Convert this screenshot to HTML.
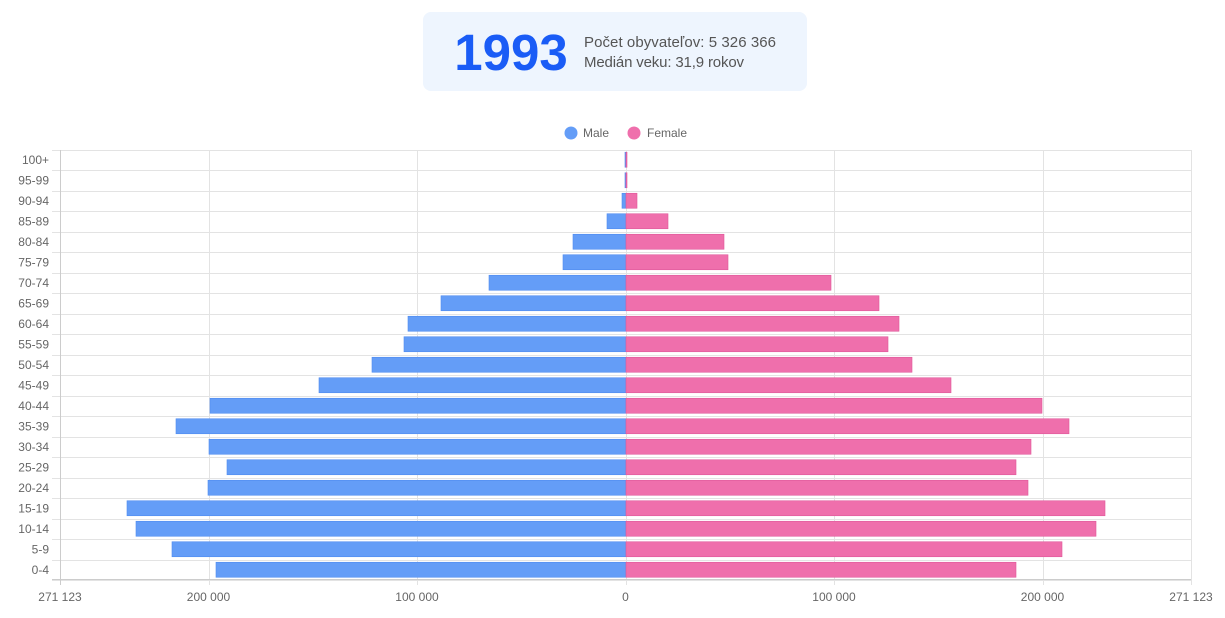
<!DOCTYPE html>
<html><head><meta charset="utf-8"><style>
body{margin:0;background:#fff;width:1225px;height:618px;overflow:hidden;font-family:"Liberation Sans",sans-serif}
</style></head><body>
<svg width="1225" height="618" xmlns="http://www.w3.org/2000/svg" style="position:absolute;left:0;top:0">
<rect x="423" y="12" width="384" height="79" rx="8" fill="#eef5fe"/>
<text x="511" y="70" text-anchor="middle" font-family="Liberation Sans" font-weight="bold" font-size="51" fill="#1a5cf6">1993</text>
<text x="584" y="47" font-size="15" fill="#555" textLength="192">Počet obyvateľov: 5 326 366</text>
<text x="584" y="67" font-size="15" fill="#555" textLength="160">Medián veku: 31,9 rokov</text>
<circle cx="571" cy="133" r="6.5" fill="#649df7"/>
<text x="583" y="137" font-size="12" fill="#666">Male</text>
<circle cx="634" cy="133" r="6.5" fill="#ef6fac"/>
<text x="647" y="137" font-size="12" fill="#666">Female</text>
<g id="grid" stroke="#e3e3e3" stroke-width="1"></g>
<g id="bars"></g>
<g id="labels" font-size="12" fill="#666"></g>
</svg>
<script>
var ns="http://www.w3.org/2000/svg";
function el(p,t,a,txt){var e=document.createElementNS(ns,t);for(var k in a)e.setAttribute(k,a[k]);if(txt)e.textContent=txt;document.getElementById(p).appendChild(e);}
var cats=["100+","95-99","90-94","85-89","80-84","75-79","70-74","65-69","60-64","55-59","50-54","45-49","40-44","35-39","30-34","25-29","20-24","15-19","10-14","5-9","0-4"];
var ml=[625,625,622,607,573,563,489,441,408,404,372,319,210,176,209,227,208,127,136,172,216];
var fr=[627,627,637,668,724,728,831,879,899,888,912,951,1042,1069,1031,1016,1028,1105,1096,1062,1016];
var top0=149.5;
for(var i=0;i<=21;i++){var y=top0+i*20.5;y=Math.round(y)+0.5;el("grid","line",{x1:52,x2:1191,y1:y,y2:y});}
[60,208.5,417,625.5,834,1042.5,1191].forEach(function(x){x=Math.round(x)+0.5;el("grid","line",{x1:x,x2:x,y1:150,y2:585});});
el("grid","line",{x1:60.5,x2:60.5,y1:150,y2:585,stroke:"#ccc"});
el("grid","line",{x1:52,x2:1191,y1:579.5,y2:579.5,stroke:"#ccc"});
for(var i=0;i<21;i++){var cy=top0+i*20.5+10.25;
el("bars","rect",{x:ml[i],y:cy-7.5,width:626-ml[i],height:15,fill:"#649df7",stroke:"#4f8bf0","stroke-width":0.6});
el("bars","rect",{x:626,y:cy-7.5,width:fr[i]-626,height:15,fill:"#ef6fac",stroke:"#e0589a","stroke-width":0.6});
el("labels","text",{x:49,y:cy+4,"text-anchor":"end"},cats[i]);}
[[60,"271 123"],[208.5,"200 000"],[417,"100 000"],[625.5,"0"],[834,"100 000"],[1042.5,"200 000"],[1191,"271 123"]].forEach(function(a){el("labels","text",{x:a[0],y:601,"text-anchor":"middle"},a[1]);});
</script>
</body></html>
